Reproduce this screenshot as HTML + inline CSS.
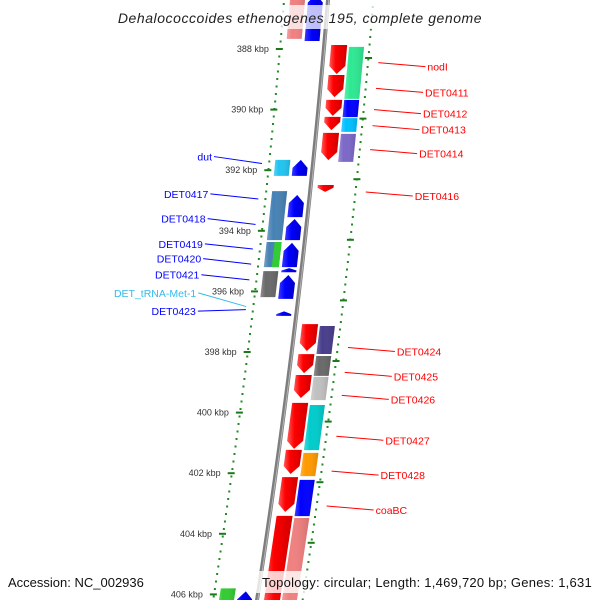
<!DOCTYPE html>
<html><head><meta charset="utf-8"><style>
html,body{margin:0;padding:0;background:#fff;}
svg{display:block;font-family:"Liberation Sans",sans-serif;}
</style></head><body>
<svg id="chart" width="600" height="600" viewBox="0 0 600 600" xmlns="http://www.w3.org/2000/svg">
<defs>
<linearGradient id="gred" x1="0" x2="1" y1="0" y2="0"><stop offset="0" stop-color="#ff5a5a"/><stop offset="0.35" stop-color="#ff0000"/><stop offset="1" stop-color="#d00000"/></linearGradient>
<linearGradient id="gblue" x1="0" x2="1" y1="0" y2="0"><stop offset="0" stop-color="#3a3aff"/><stop offset="0.4" stop-color="#0000ff"/><stop offset="1" stop-color="#0000c8"/></linearGradient>
<linearGradient id="gshade" x1="0" x2="1" y1="0" y2="0"><stop offset="0" stop-color="#fff" stop-opacity="0.25"/><stop offset="0.3" stop-color="#fff" stop-opacity="0"/><stop offset="1" stop-color="#000" stop-opacity="0.12"/></linearGradient>
</defs>
<g id="layer"></g>
</svg>
<script>
// ---- data ----
const tickKbp = [388, 390, 392, 394, 396, 398, 400, 402, 404, 406];
const fwdStart = [387.87, 388.86, 389.68, 390.24, 390.77, 392.49, 397.08, 398.07, 398.76, 399.68, 401.23, 402.13, 403.41];
const fwdEnd   = [388.86, 389.62, 390.24, 390.71, 391.70, 392.75, 398.00, 398.73, 399.55, 401.23, 402.06, 403.31, 406.6];
const fwdCogStart = [387.93, 389.68, 390.28, 390.80, 397.14, 398.13, 398.82, 399.75, 401.33, 402.22, 403.48];
const fwdCogEnd   = [389.68, 390.28, 390.77, 391.76, 398.10, 398.82, 399.62, 401.27, 402.13, 403.45, 406.6];
const fwdCogColor = ["#2ee892", "#0000ff", "#00bfff", "#7b68c8", "#483d8b", "#696969", "#c0c0c0", "#00cccc", "#ff9900", "#0000ff", "#f08080"];
const revStart = [386.2, 391.66, 392.82, 393.61, 394.40, 395.23, 395.46, 396.66, 405.9];
const revEnd   = [387.77, 392.22, 393.58, 394.34, 395.23, 395.40, 396.28, 396.84, 406.6];
const revCogStart = [386.2, 391.66, 392.69, 394.37, 395.33, 405.8];
const revCogEnd   = [387.70, 392.22, 394.34, 395.23, 396.22, 406.6];
const revCogColor = ["#f08080", "#22c4f0", "#4682b4", "#4682b4", "#696969", "#33cc33"];
const rightLabels = ["nodI","DET0411","DET0412","DET0413","DET0414","DET0416","DET0424","DET0425","DET0426","DET0427","DET0428","coaBC"];
const rightLabelKbp = [388.55, 389.4, 390.1, 390.63, 391.42, 392.82, 397.95, 398.77, 399.53, 400.88, 402.03, 403.18];
const leftLabels = ["dut","DET0417","DET0418","DET0419","DET0420","DET0421","DET_tRNA-Met-1","DET0423"];
const leftLabelKbp = [391.55, 392.78, 393.6, 394.43, 394.92, 395.45, 396.05, 396.65];
const leftTargetKbp = [391.78, 392.95, 393.79, 394.6, 395.1, 395.62, 396.5, 396.6];

// ---- scales ----
const yOf = k => 49 + (k - 388) * 30.3;
const bx = y => 328 - 0.0817 * y - 6.1e-5 * y * y;
const NS = "http://www.w3.org/2000/svg";
const layer = document.getElementById('layer');
function mk(tag, attrs, parent) {
  const e = document.createElementNS(NS, tag);
  for (const k in attrs) e.setAttribute(k, attrs[k]);
  (parent || layer).appendChild(e);
  return e;
}
function clampY(y){return Math.max(-10, Math.min(612, y));}
function boxPts(y1, y2, o1, o2) {
  y1 = clampY(y1); y2 = clampY(y2);
  return [[bx(y1)+o1,y1],[bx(y1)+o2,y1],[bx(y2)+o2,y2],[bx(y2)+o1,y2]].map(p=>p.join(',')).join(' ');
}
function arrowDown(y1, y2, o1, o2) {
  y1 = clampY(y1); y2 = clampY(y2);
  const h = Math.min(8, (y2 - y1) * 0.6), ym = y2 - h, om = (o1 + o2) / 2;
  return [[bx(y1)+o1,y1],[bx(y1)+o2,y1],[bx(ym)+o2,ym],[bx(y2)+om,y2],[bx(ym)+o1,ym]].map(p=>p.join(',')).join(' ');
}
function arrowUp(y1, y2, o1, o2) {
  y1 = clampY(y1); y2 = clampY(y2);
  const h = Math.min(8, (y2 - y1) * 0.6), ym = y1 + h, om = (o1 + o2) / 2;
  return [[bx(y1)+om,y1],[bx(ym)+o2,ym],[bx(y2)+o2,y2],[bx(y2)+o1,y2],[bx(ym)+o1,ym]].map(p=>p.join(',')).join(' ');
}

// dotted guide lines
for (let y = 3; y < 600; y += 7.5) {
  let d = mk('rect', {x: bx(y) - 45, y: y, width: 2, height: 2, fill: '#228b22'});
  
  
  d = mk('rect', {x: bx(y) + 44, y: y + 3, width: 2, height: 2, fill: '#228b22'});
  
  
}
// ticks
tickKbp.forEach(k => {
  const y = yOf(k);
  let t = mk('rect', {x: bx(y) - 48, y: y - 1, width: 7, height: 2, fill: '#1a7a1a'});
  
  
  t = mk('rect', {x: bx(y + 9) + 42, y: y + 8, width: 7, height: 2, fill: '#1a7a1a'});
  
  
  const tx = mk('text', {x: bx(y) - 55, y: y + 3, 'font-size': 9, fill: '#333', 'text-anchor': 'end'});
  tx.textContent = k + ' kbp';
  
  
});
// backbone
let bp = [];
for (let y = -5; y <= 605; y += 5) bp.push([bx(y), y].join(','));
let bb = mk('polyline', {points: bp.join(' '), fill: 'none', stroke: '#7d7d7d', 'stroke-width': 4});


bb = mk('polyline', {points: bp.map(p => {const [x,y]=p.split(','); return (+x+0.8)+','+y;}).join(' '), fill: 'none', stroke: '#b5b5b5', 'stroke-width': 1});



// forward genes
fwdStart.forEach((s, i) => {
  const g = mk('polygon', {points: arrowDown(yOf(s), yOf(fwdEnd[i]) - 1, 7, 23), fill: 'url(#gred)'});
  
  
});
fwdCogStart.forEach((s, i) => {
  const g = mk('polygon', {points: boxPts(yOf(s), yOf(fwdCogEnd[i]) - 1, 25, 40), fill: fwdCogColor[i]});
  
  
  mk('polygon', {points: boxPts(yOf(s), yOf(fwdCogEnd[i]) - 1, 25, 40), fill: 'url(#gshade)'});
});
// reverse genes
revStart.forEach((s, i) => {
  const g = mk('polygon', {points: arrowUp(yOf(s), yOf(revEnd[i]) - 1, -20, -5), fill: 'url(#gblue)'});
  
  
});
revCogStart.forEach((s, i) => {
  const g = mk('polygon', {points: boxPts(yOf(s), yOf(revCogEnd[i]) - 1, -38, -23), fill: revCogColor[i]});
  
  
  mk('polygon', {points: boxPts(yOf(s), yOf(revCogEnd[i]) - 1, -38, -23), fill: 'url(#gshade)'});
});
// DET0419 green split
{ const g = mk('polygon', {points: boxPts(yOf(394.37), yOf(395.23) - 1, -30, -23), fill: '#33cc33'});
  
   }

// right labels
rightLabels.forEach((t, i) => {
  const y = yOf(rightLabelKbp[i]);
  const x0 = bx(y) + 56;
  const l = mk('line', {x1: x0, y1: y - 3, x2: x0 + 47, y2: y + 1, stroke: '#ff0000', 'stroke-width': 1});
  
  
  const tx = mk('text', {x: x0 + 49, y: y + 5, 'font-size': 10.5, fill: '#ff0000'});
  tx.textContent = t;
  
  
});
// left labels
leftLabels.forEach((t, i) => {
  const y = yOf(leftLabelKbp[i]);
  const ty = yOf(leftTargetKbp[i]);
  const col = t.indexOf('tRNA') >= 0 ? '#33bbee' : '#0000ff';
  const xr = bx(ty) - 51;
  const l = mk('line', {x1: xr - 48, y1: y, x2: xr, y2: ty, stroke: col, 'stroke-width': 1});
  
  
  const tx = mk('text', {x: xr - 50, y: y + 4, 'font-size': 10.5, fill: col, 'text-anchor': 'end'});
  tx.textContent = t;
  
  
});
</script>
<svg style="position:absolute;left:0;top:0" width="600" height="600">
<rect x="108" y="5" width="386" height="24" fill="#fff" fill-opacity="0.75"/>
<text x="300" y="23" text-anchor="middle" font-size="14" font-style="italic" fill="#222" font-family="Liberation Sans, sans-serif" letter-spacing="0.55">Dehalococcoides ethenogenes 195, complete genome</text>
<rect x="3" y="571" width="150" height="22" fill="#fff" fill-opacity="0.8"/>
<text x="8" y="587" font-size="13" fill="#111" font-family="Liberation Sans, sans-serif">Accession: NC_002936</text>
<rect x="256" y="571" width="344" height="22" fill="#fff" fill-opacity="0.8"/>
<text x="592" y="587" text-anchor="end" font-size="13" fill="#111" font-family="Liberation Sans, sans-serif" letter-spacing="0.25">Topology: circular; Length: 1,469,720 bp; Genes: 1,631</text>
</svg>
</body></html>
